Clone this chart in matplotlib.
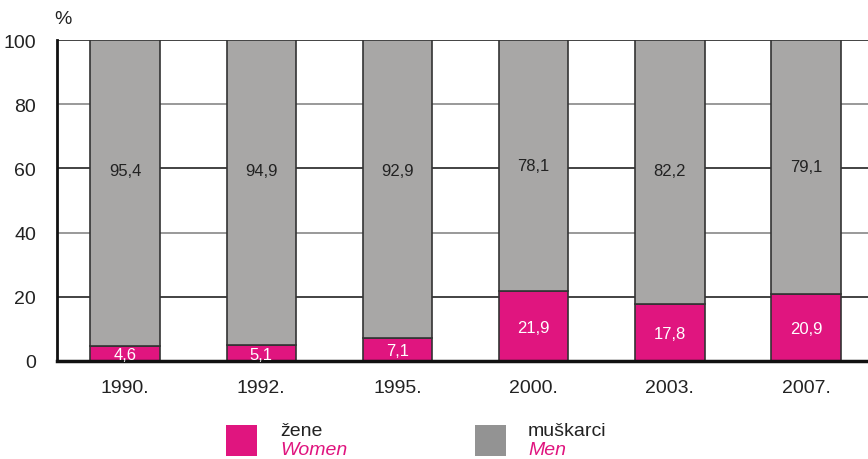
import matplotlib.pyplot as plt
from matplotlib.patches import Rectangle
import numpy as np

years = ['1990.', '1992.', '1995.', '2000.', '2003.', '2007.']
women = [4.6, 5.1, 7.1, 21.9, 17.8, 20.9]
men = [95.4, 94.9, 92.9, 78.1, 82.2, 79.1]

PINK = '#e0157f'
GREY = '#a8a7a6'
plt.rcParams['font.family'] = ['Liberation Sans', 'DejaVu Sans']

fig = plt.figure(figsize=(8.68, 4.6), dpi=100)
ax = fig.add_axes([57/868, 1-362/460, 1-57/868, 321/460])

x = np.arange(len(years))
for y, c in zip([20, 40, 60, 80, 100], ['#222222', '#888888', '#222222', '#888888', '#222222']):
    ax.axhline(y, color=c, lw=1.2, zorder=0)

ax.bar(x, women, width=0.51, color=PINK, edgecolor='#333333', lw=1.2, zorder=2)
ax.bar(x, men, width=0.51, bottom=women, color=GREY, edgecolor='#333333', lw=1.2, zorder=2)

for i in range(len(years)):
    ax.text(x[i], women[i] / 2 - 0.4, f'{women[i]:.1f}'.replace('.', ','), ha='center', va='center',
            color='white', fontsize=12, zorder=3)
    ax.text(x[i], max(women[i] + men[i] / 2, 59.5), f'{men[i]:.1f}'.replace('.', ','), ha='center',
            va='center', color='#222222', fontsize=12, zorder=3)

ax.set_xlim(-0.5, 5.455)
ax.set_ylim(0, 100)
ax.set_yticks([0, 20, 40, 60, 80, 100])
ax.set_xticks(x)
ax.set_xticklabels(years)
ax.tick_params(length=0, labelsize=14, colors='#222222', pad=13)
ax.tick_params(axis='y', pad=15)
for s in ['top', 'right']:
    ax.spines[s].set_visible(False)
ax.spines['left'].set_linewidth(2)
ax.spines['bottom'].set_linewidth(2.5)
ax.spines['left'].set_color('#111111')
ax.spines['bottom'].set_color('#111111')
ax.set_zorder(1)

fig.text(63/868, 1-20/460, '%', fontsize=14, color='#222222', ha='center', va='center')

# legend
fig.patches.append(Rectangle((226/868, 1-457/460), 31/868, 31/460, transform=fig.transFigure,
                             facecolor=PINK, edgecolor='none'))
fig.patches.append(Rectangle((475/868, 1-457/460), 31/868, 31/460, transform=fig.transFigure,
                             facecolor='#939393', edgecolor='none'))
fig.text(280/868, 1-432/460, 'žene', fontsize=14, color='#222222', va='center')
fig.text(280/868, 1-451/460, 'Women', fontsize=14, color=PINK, style='italic', va='center')
fig.text(528/868, 1-432/460, 'muškarci', fontsize=14, color='#222222', va='center')
fig.text(528/868, 1-451/460, 'Men', fontsize=14, color=PINK, style='italic', va='center')

fig.savefig('out.png', dpi=100)
